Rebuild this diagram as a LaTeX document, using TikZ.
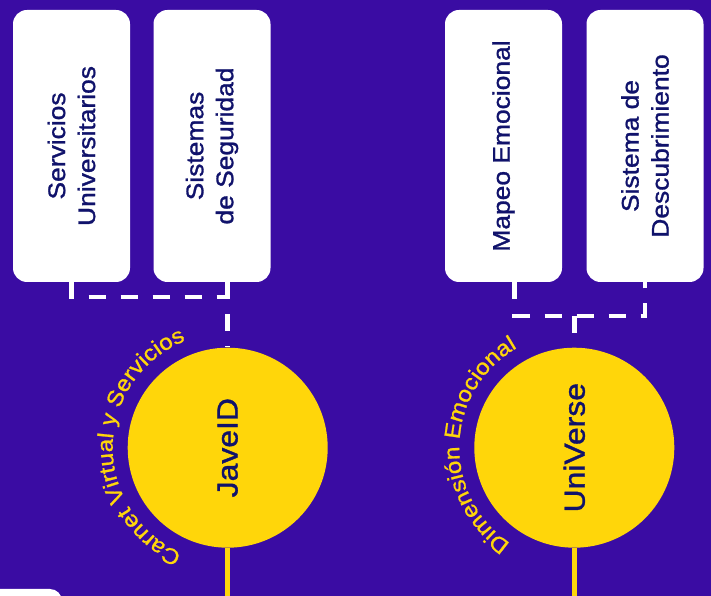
\documentclass[tikz,border=0pt]{standalone}
\usepackage{fontspec}
\setmainfont{Liberation Sans}[FakeStretch=1.1, FakeBold=1.2]
\newfontfamily\arcfont{Liberation Sans}[FakeStretch=1.1, FakeBold=1.0]
\usetikzlibrary{decorations.text}
\definecolor{bgpurple}{HTML}{3A0CA3}
\definecolor{sunyellow}{HTML}{FFD60A}
\definecolor{inknavy}{HTML}{10126B}

\begin{document}
\begin{tikzpicture}[
  x=1pt, y=1pt,
  card/.style={rectangle, rotate=90, fill=white, rounded corners=14pt,
               minimum width=272pt, minimum height=117pt, inner sep=0pt,
               text=inknavy, align=center, font=\fontsize{24}{30}\selectfont},
  hub/.style={circle, rotate=90, fill=sunyellow, minimum size=200pt,
              inner sep=0pt, text=inknavy, font=\fontsize{29}{34}\selectfont},
  link/.style={draw=white, line width=4.5pt, dash pattern=on 17pt off 15pt},
  stem/.style={draw=sunyellow, line width=4.5pt},
  arclabel/.style={decorate, decoration={text along path, text align=center,
                   text={|\arcfont\fontsize{22}{22}\selectfont\color{sunyellow}|#1}}},
]
  \fill[bgpurple] (0,0) rectangle (711,596);
  \useasboundingbox (0,0) rectangle (711,596);
  \begin{scope}
    \clip (0,0) rectangle (711,596);
    \fill[white, rounded corners=12pt] (-80,-60) rectangle (62,7);
  \end{scope}

  \node[card] (serv) at (71.5,450) {Servicios\\Universitarios};
  \node[card] (segu) at (212,450) {Sistemas\\de Seguridad};
  \node[card] (mapeo) at (503.5,450) {Mapeo Emocional};
  \node[card] (desc) at (645,450) {Sistema de\\Descubrimiento};

  \node[hub] (jave) at (227.7,148.3) {JaveID};
  \node[hub] (uni) at (574.3,148.3) {UniVerse};

  \coordinate (busL) at (jave.east |- 0,299);
  \coordinate (busR) at (desc.west |- 0,280);
  \draw[link] (serv.west) |- (busL);
  \draw[link] (jave.east |- segu.west) -- (jave.east);
  \draw[link] ([xshift=11pt]mapeo.west) |- (busR) -- (desc.west);
  \draw[link] (uni.east |- busR) -- (uni.east);

  \draw[stem] (jave.west) -- (jave.west |- 0,0);
  \draw[stem] (uni.west) -- (uni.west |- 0,0);

  \path[arclabel={Carnet Virtual y Servicios}]
    (jave.center) ++(252:115pt) arc[start angle=252, end angle=106, radius=115pt];
  \path[arclabel={Dimensión Emocional}]
    (uni.center) ++(250:115pt) arc[start angle=250, end angle=106, radius=115pt];
\end{tikzpicture}
\end{document}
